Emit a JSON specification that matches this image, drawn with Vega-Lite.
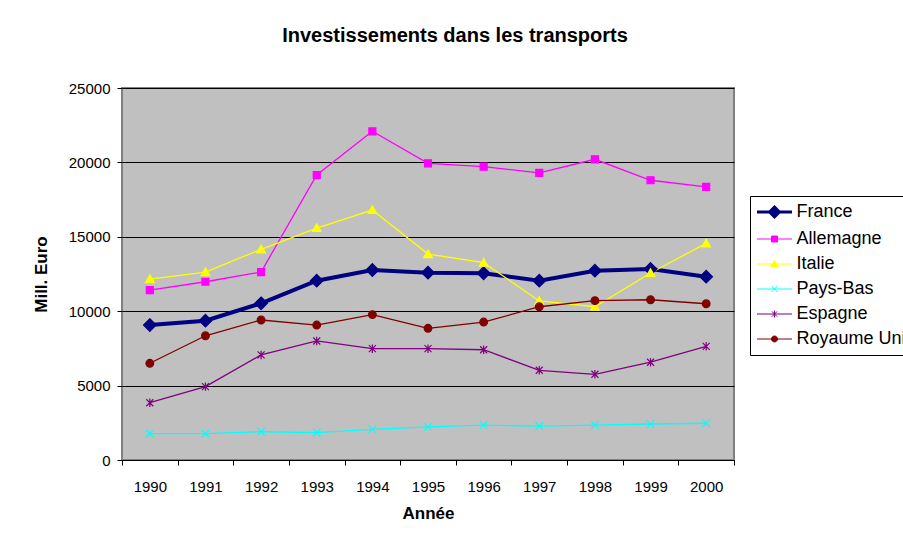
{
  "$schema": "https://vega.github.io/schema/vega-lite/v6.json",
  "width": 612,
  "height": 372,
  "autosize": {"type": "none"},
  "padding": {"left": 122, "top": 88, "right": 169, "bottom": 78},
  "background": "white",
  "title": {
    "text": "Investissements dans les transports",
    "font": "Liberation Sans",
    "fontSize": 20,
    "fontWeight": "bold",
    "color": "black",
    "anchor": "middle",
    "frame": "group",
    "dx": 27,
    "offset": 19,
    "baseline": "alphabetic"
  },
  "config": {
    "font": "Liberation Sans",
    "view": {"fill": "#C0C0C0", "stroke": "#808080", "strokeWidth": 2}
  },
  "data": {
    "values": [
      {"annee": "1990", "pays": "France", "valeur": 9070},
      {"annee": "1991", "pays": "France", "valeur": 9360},
      {"annee": "1992", "pays": "France", "valeur": 10530},
      {"annee": "1993", "pays": "France", "valeur": 12050},
      {"annee": "1994", "pays": "France", "valeur": 12770},
      {"annee": "1995", "pays": "France", "valeur": 12590},
      {"annee": "1996", "pays": "France", "valeur": 12550},
      {"annee": "1997", "pays": "France", "valeur": 12050},
      {"annee": "1998", "pays": "France", "valeur": 12720},
      {"annee": "1999", "pays": "France", "valeur": 12840},
      {"annee": "2000", "pays": "France", "valeur": 12320},
      {"annee": "1990", "pays": "Allemagne", "valeur": 11420},
      {"annee": "1991", "pays": "Allemagne", "valeur": 11980},
      {"annee": "1992", "pays": "Allemagne", "valeur": 12630},
      {"annee": "1993", "pays": "Allemagne", "valeur": 19150},
      {"annee": "1994", "pays": "Allemagne", "valeur": 22090},
      {"annee": "1995", "pays": "Allemagne", "valeur": 19940},
      {"annee": "1996", "pays": "Allemagne", "valeur": 19710},
      {"annee": "1997", "pays": "Allemagne", "valeur": 19290},
      {"annee": "1998", "pays": "Allemagne", "valeur": 20210},
      {"annee": "1999", "pays": "Allemagne", "valeur": 18800},
      {"annee": "2000", "pays": "Allemagne", "valeur": 18350},
      {"annee": "1990", "pays": "Italie", "valeur": 12160},
      {"annee": "1991", "pays": "Italie", "valeur": 12630},
      {"annee": "1992", "pays": "Italie", "valeur": 14160},
      {"annee": "1993", "pays": "Italie", "valeur": 15590},
      {"annee": "1994", "pays": "Italie", "valeur": 16800},
      {"annee": "1995", "pays": "Italie", "valeur": 13840},
      {"annee": "1996", "pays": "Italie", "valeur": 13260},
      {"annee": "1997", "pays": "Italie", "valeur": 10690},
      {"annee": "1998", "pays": "Italie", "valeur": 10300},
      {"annee": "1999", "pays": "Italie", "valeur": 12570},
      {"annee": "2000", "pays": "Italie", "valeur": 14560},
      {"annee": "1990", "pays": "Pays-Bas", "valeur": 1770},
      {"annee": "1991", "pays": "Pays-Bas", "valeur": 1770},
      {"annee": "1992", "pays": "Pays-Bas", "valeur": 1900},
      {"annee": "1993", "pays": "Pays-Bas", "valeur": 1840},
      {"annee": "1994", "pays": "Pays-Bas", "valeur": 2060},
      {"annee": "1995", "pays": "Pays-Bas", "valeur": 2220},
      {"annee": "1996", "pays": "Pays-Bas", "valeur": 2350},
      {"annee": "1997", "pays": "Pays-Bas", "valeur": 2280},
      {"annee": "1998", "pays": "Pays-Bas", "valeur": 2350},
      {"annee": "1999", "pays": "Pays-Bas", "valeur": 2420},
      {"annee": "2000", "pays": "Pays-Bas", "valeur": 2470},
      {"annee": "1990", "pays": "Espagne", "valeur": 3850},
      {"annee": "1991", "pays": "Espagne", "valeur": 4930},
      {"annee": "1992", "pays": "Espagne", "valeur": 7060},
      {"annee": "1993", "pays": "Espagne", "valeur": 8000},
      {"annee": "1994", "pays": "Espagne", "valeur": 7480},
      {"annee": "1995", "pays": "Espagne", "valeur": 7480},
      {"annee": "1996", "pays": "Espagne", "valeur": 7410},
      {"annee": "1997", "pays": "Espagne", "valeur": 6030},
      {"annee": "1998", "pays": "Espagne", "valeur": 5760},
      {"annee": "1999", "pays": "Espagne", "valeur": 6570},
      {"annee": "2000", "pays": "Espagne", "valeur": 7640},
      {"annee": "1990", "pays": "Royaume Uni", "valeur": 6500},
      {"annee": "1991", "pays": "Royaume Uni", "valeur": 8350},
      {"annee": "1992", "pays": "Royaume Uni", "valeur": 9410},
      {"annee": "1993", "pays": "Royaume Uni", "valeur": 9070},
      {"annee": "1994", "pays": "Royaume Uni", "valeur": 9770},
      {"annee": "1995", "pays": "Royaume Uni", "valeur": 8850},
      {"annee": "1996", "pays": "Royaume Uni", "valeur": 9270},
      {"annee": "1997", "pays": "Royaume Uni", "valeur": 10300},
      {"annee": "1998", "pays": "Royaume Uni", "valeur": 10710},
      {"annee": "1999", "pays": "Royaume Uni", "valeur": 10770},
      {"annee": "2000", "pays": "Royaume Uni", "valeur": 10500}
    ]
  },
  "encoding": {
    "x": {
      "field": "annee",
      "type": "ordinal",
      "scale": {"type": "band", "paddingInner": 0, "paddingOuter": 0},
      "axis": {
        "title": "Année",
        "titleFont": "Liberation Sans",
        "titleFontSize": 17,
        "titleFontWeight": "bold",
        "titleColor": "black",
        "titlePadding": 11,
        "labelFont": "Liberation Sans",
        "labelFontSize": 15,
        "labelColor": "black",
        "labelAngle": 0,
        "labelPadding": 14,
        "tickBand": "extent",
        "tickColor": "black",
        "tickSize": 5,
        "domainColor": "black",
        "domainWidth": 1,
        "grid": false
      }
    },
    "y": {
      "field": "valeur",
      "type": "quantitative",
      "scale": {"domain": [0, 25000], "nice": false},
      "axis": {
        "title": "Mill. Euro",
        "titleFont": "Liberation Sans",
        "titleFontSize": 17,
        "titleFontWeight": "bold",
        "titleColor": "black",
        "titlePadding": 18,
        "values": [0, 5000, 10000, 15000, 20000, 25000],
        "format": "d",
        "labelFont": "Liberation Sans",
        "labelFontSize": 15,
        "labelColor": "black",
        "labelPadding": 7,
        "tickSize": 5,
        "tickColor": "black",
        "domain": false,
        "grid": true,
        "gridColor": "black",
        "gridWidth": 1
      }
    }
  },
  "layer": [
    {
      "mark": {"type": "line"},
      "encoding": {
        "strokeWidth": {"condition": {"test": "datum.pays === 'France'", "value": 4}, "value": 1.3},
        "color": {
          "field": "pays",
          "type": "nominal",
          "scale": {
            "domain": ["France", "Allemagne", "Italie", "Pays-Bas", "Espagne", "Royaume Uni"],
            "range": ["#000080", "#FF00FF", "#FFFF00", "#00FFFF", "#800080", "#800000"]
          },
          "legend": {
            "orient": "none",
            "legendX": 628,
            "legendY": 108,
            "title": null,
            "labelFont": "Liberation Sans",
            "labelFontSize": 18,
            "labelColor": "black",
            "labelOffset": 0,
            "labelLimit": 300,
            "symbolSize": 1225,
            "padding": 7,
            "rowPadding": 7,
            "strokeColor": "black",
            "fillColor": "white",
            "symbolType": "stroke",
            "encode": {
              "symbols": {
                "update": {
                  "x": {"value": 17.5},
                  "size": {"value": 1225},
                  "shape": {"signal": "datum.value === 'France' ? 'M-1,0H1M0,-0.28L0.28,0L0,0.28L-0.28,0Z' : datum.value === 'Allemagne' ? 'M-1,0H1M-0.17,-0.17H0.17V0.17H-0.17Z' : datum.value === 'Italie' ? 'M-1,0H1M0,-0.2L0.22,0.17H-0.22Z' : datum.value === 'Pays-Bas' ? 'M-1,0H1M-0.17,-0.17L0.17,0.17M-0.17,0.17L0.17,-0.17' : datum.value === 'Espagne' ? 'M-1,0H1M-0.15,-0.15L0.15,0.15M-0.15,0.15L0.15,-0.15M0,-0.2V0.2' : 'M-1,0H1M-0.17,0A0.17,0.17,0,1,0,0.17,0A0.17,0.17,0,1,0,-0.17,0Z'"},
                  "fill": {"scale": "color", "field": "value"},
                  "stroke": {"scale": "color", "field": "value"},
                  "strokeWidth": {"signal": "datum.value === 'France' ? 3 : 1"},
                  "opacity": {"value": 1}
                }
              },
              "labels": {
                "update": {
                  "x": {"value": 39.5}
                }
              }
            }
          }
        }
      }
    },
    {
      "transform": [{"filter": "datum.pays === 'France'"}],
      "mark": {"type": "point", "shape": "M0,-0.9L0.9,0L0,0.9L-0.9,0Z", "fill": "#000080", "stroke": "#000080", "strokeWidth": 1.2, "opacity": 1, "fillOpacity": 1, "size": 196}
    },
    {
      "transform": [{"filter": "datum.pays === 'Allemagne'"}],
      "mark": {"type": "point", "shape": "M-0.5,-0.5H0.5V0.5H-0.5Z", "fill": "#FF00FF", "stroke": "#FF00FF", "strokeWidth": 1.2, "opacity": 1, "fillOpacity": 1, "size": 196}
    },
    {
      "transform": [{"filter": "datum.pays === 'Italie'"}],
      "mark": {"type": "point", "shape": "M0,-0.6L0.62,0.5L-0.62,0.5Z", "fill": "#FFFF00", "stroke": "#FFFF00", "strokeWidth": 1.2, "opacity": 1, "fillOpacity": 1, "size": 196}
    },
    {
      "transform": [{"filter": "datum.pays === 'Pays-Bas'"}],
      "mark": {"type": "point", "shape": "M-0.55,-0.55L0.55,0.55M-0.55,0.55L0.55,-0.55", "fill": "none", "stroke": "#00FFFF", "strokeWidth": 1.2, "opacity": 1, "size": 196}
    },
    {
      "transform": [{"filter": "datum.pays === 'Espagne'"}],
      "mark": {"type": "point", "shape": "M-0.5,-0.5L0.5,0.5M-0.5,0.5L0.5,-0.5M0,-0.6V0.6", "fill": "none", "stroke": "#800080", "strokeWidth": 1.2, "opacity": 1, "size": 196}
    },
    {
      "transform": [{"filter": "datum.pays === 'Royaume Uni'"}],
      "mark": {"type": "point", "shape": "M-0.55,0A0.55,0.55,0,1,0,0.55,0A0.55,0.55,0,1,0,-0.55,0Z", "fill": "#800000", "stroke": "#800000", "strokeWidth": 1.2, "opacity": 1, "fillOpacity": 1, "size": 196}
    }
  ]
}
